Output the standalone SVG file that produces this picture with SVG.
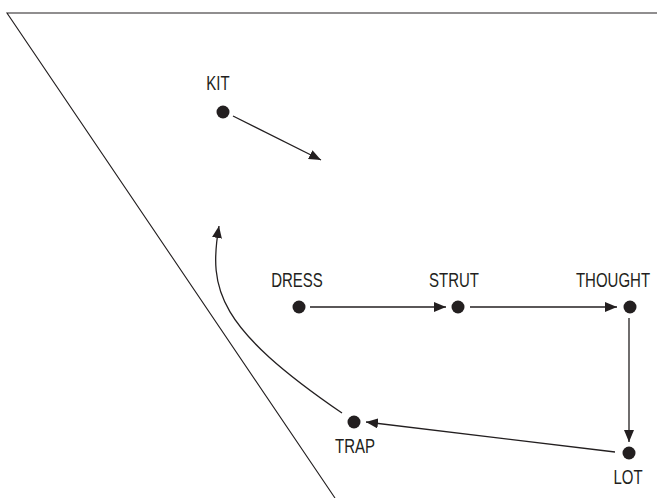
<svg xmlns="http://www.w3.org/2000/svg" width="657" height="498" viewBox="0 0 657 498">
<style>
.frame{fill:none;stroke:#231f20;stroke-width:1.1}
.edge{fill:none;stroke:#231f20;stroke-width:1.3}
.dot{fill:#231f20}
.lbl{font-family:"Liberation Sans",Arial,sans-serif;font-size:15px;fill:#231f20;text-anchor:middle}
</style>
<defs>
<marker id="ah" viewBox="0 0 12 10" refX="12" refY="5" markerWidth="12" markerHeight="10" markerUnits="userSpaceOnUse" orient="auto">
<path d="M0,0 L12,5 L0,10 Z" fill="#231f20"/>
</marker>
</defs>
<rect width="657" height="498" fill="#fff"/>
<polyline class="frame" points="657,13 7,13 335,498"/>
<g id="connectors">
<line class="edge" x1="233" y1="116" x2="321" y2="160" marker-end="url(#ah)"/>
<line class="edge" x1="310" y1="307" x2="446" y2="307" marker-end="url(#ah)"/>
<line class="edge" x1="470" y1="307" x2="617" y2="307" marker-end="url(#ah)"/>
<line class="edge" x1="629" y1="318" x2="629" y2="442" marker-end="url(#ah)"/>
<line class="edge" x1="615" y1="452" x2="366" y2="422" marker-end="url(#ah)"/>
<path class="edge" d="M342,413 C218,328 208,290 219,226" marker-end="url(#ah)"/>
</g>
<g id="kit"><circle class="dot" cx="223" cy="112" r="6.5"/><text class="lbl" transform="translate(218,90) scale(1,1.3)">KIT</text></g>
<g id="dress"><circle class="dot" cx="299" cy="307" r="6.5"/><text class="lbl" transform="translate(297,287) scale(1,1.3)">DRESS</text></g>
<g id="strut"><circle class="dot" cx="458" cy="307" r="6.5"/><text class="lbl" transform="translate(454,287) scale(1,1.3)">STRUT</text></g>
<g id="thought"><circle class="dot" cx="630" cy="307" r="6.5"/><text class="lbl" transform="translate(613,287) scale(1,1.3)">THOUGHT</text></g>
<g id="lot"><circle class="dot" cx="629" cy="453" r="6.5"/><text class="lbl" transform="translate(628,484) scale(1,1.3)">LOT</text></g>
<g id="trap"><circle class="dot" cx="354" cy="422" r="6.5"/><text class="lbl" transform="translate(355,453) scale(1,1.3)">TRAP</text></g>
</svg>
